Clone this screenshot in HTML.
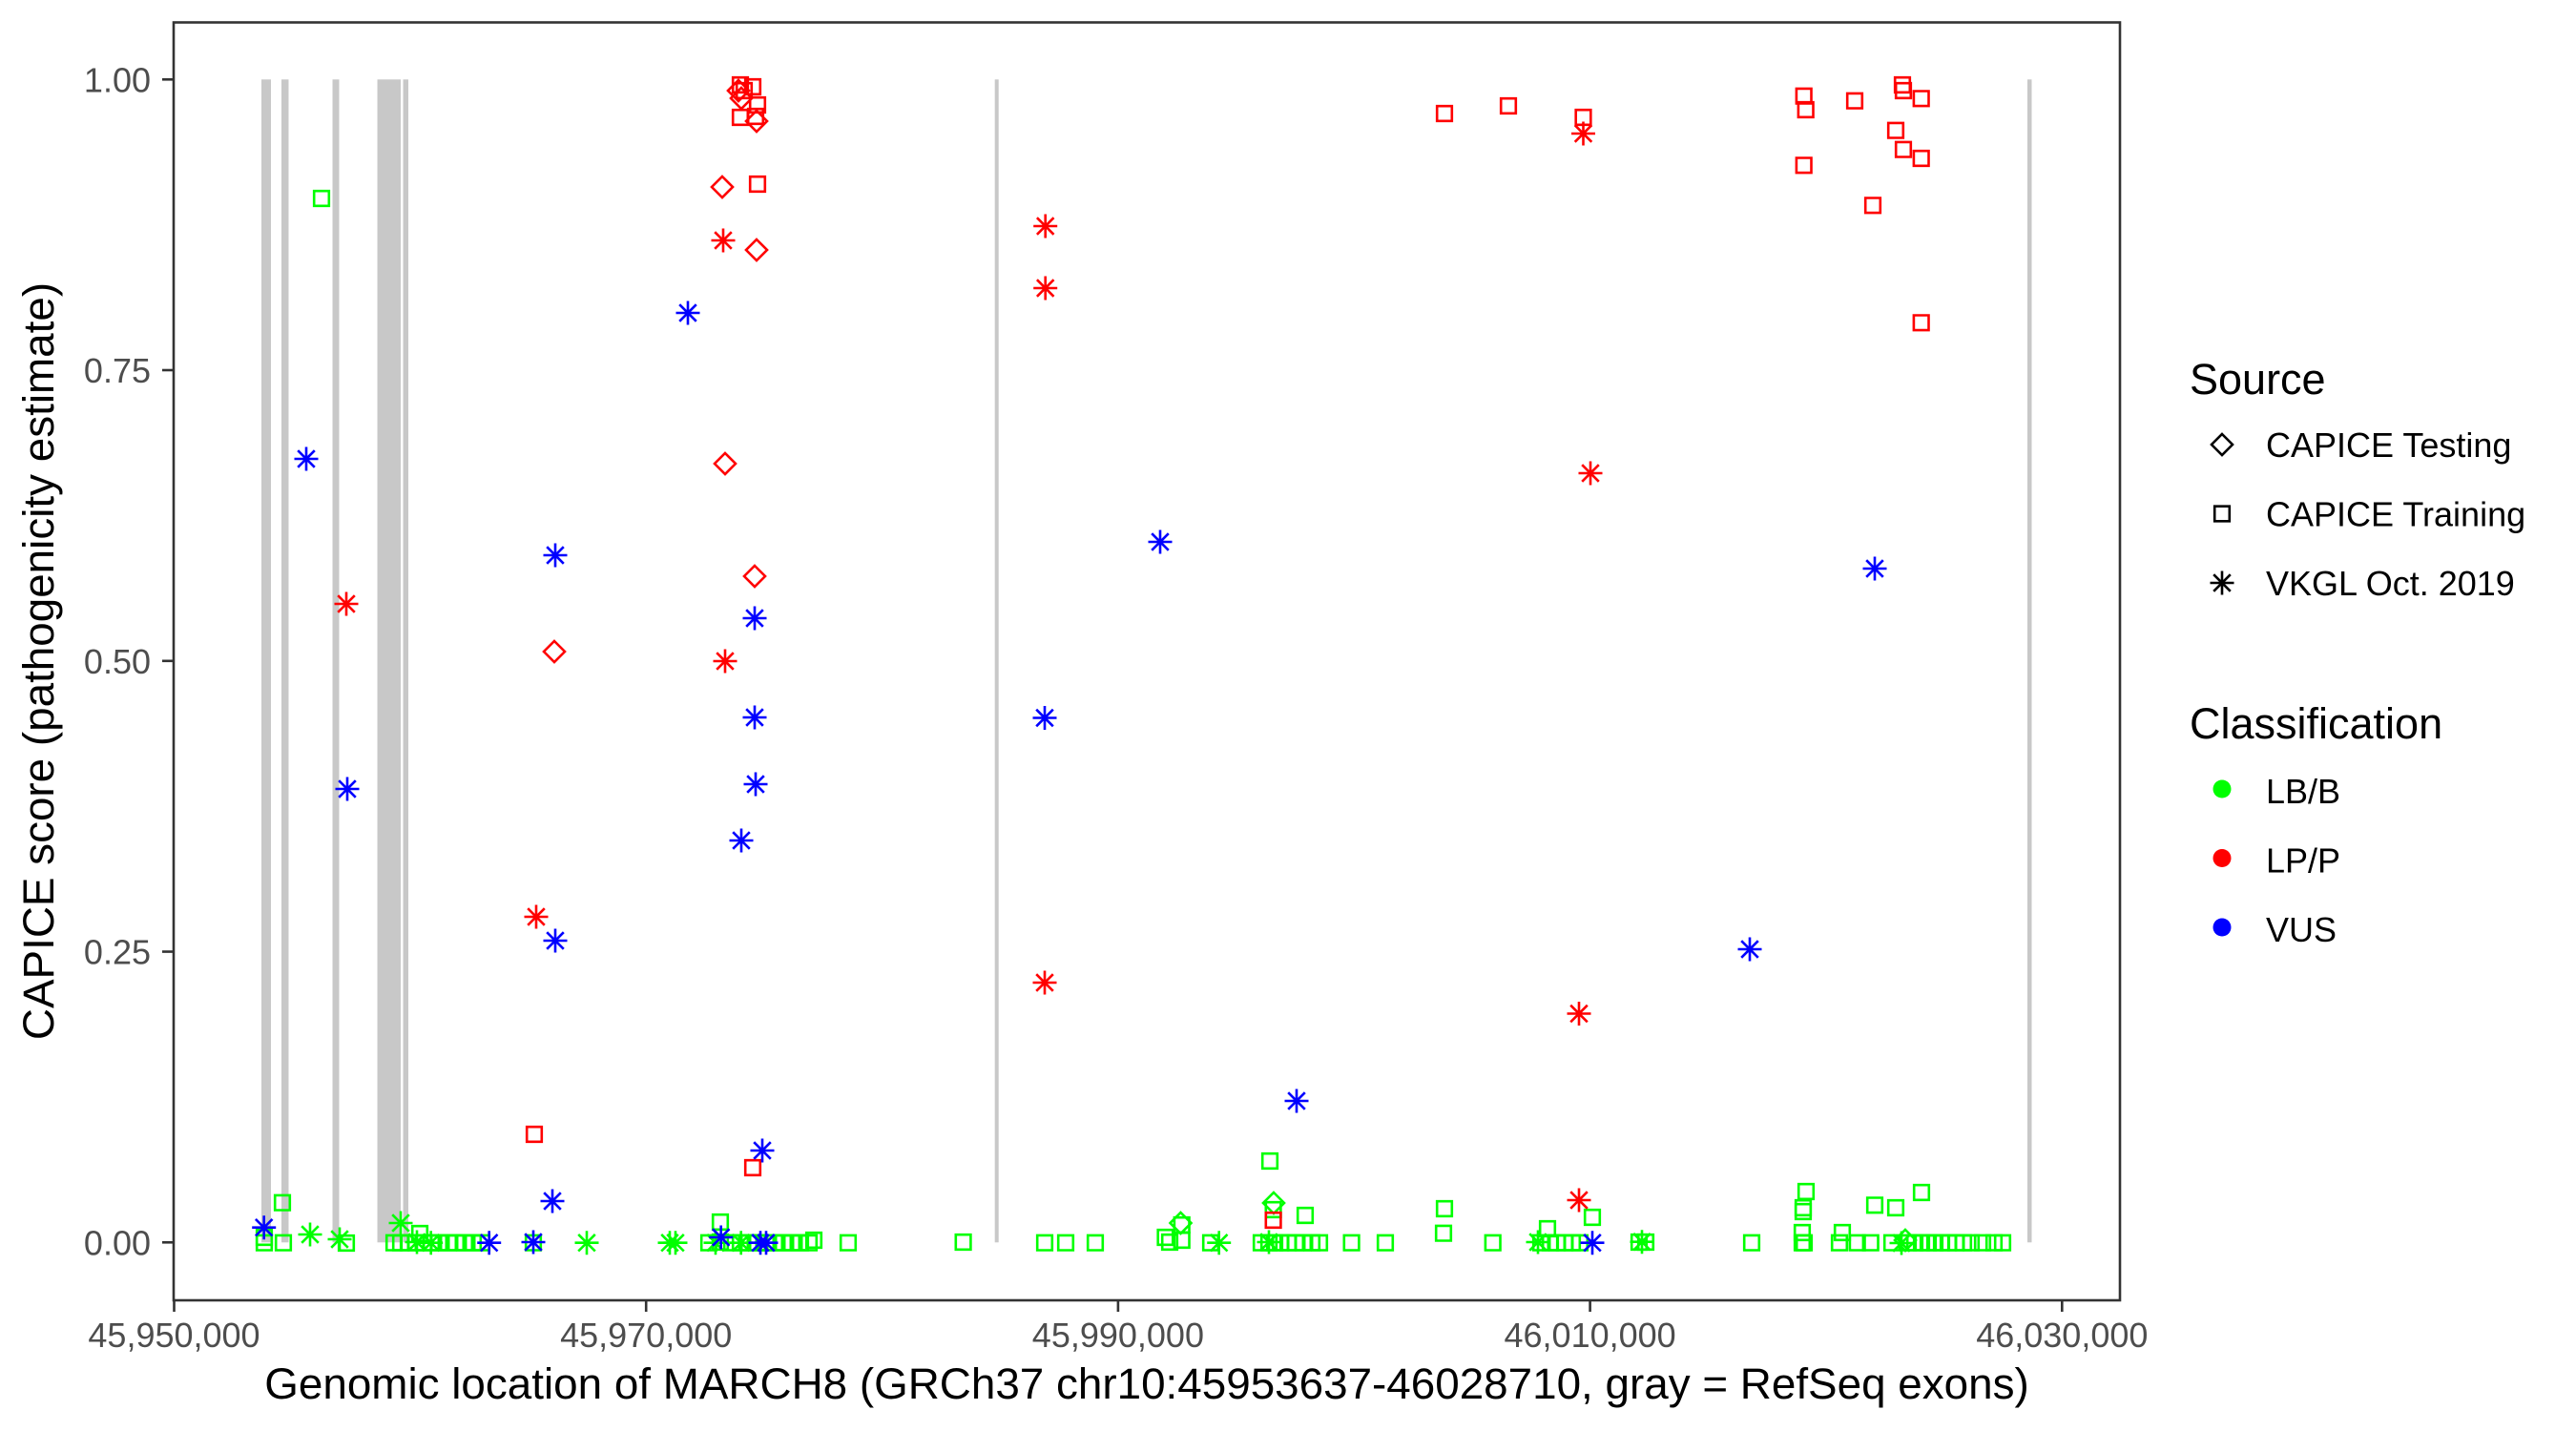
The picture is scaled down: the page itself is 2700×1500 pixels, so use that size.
<!DOCTYPE html>
<html><head><meta charset="utf-8"><style>
html,body{margin:0;padding:0;background:#fff;}
svg{display:block;font-family:"Liberation Sans",Arial,sans-serif;}
</style></head><body>
<svg width="2700" height="1500" viewBox="0 0 2700 1500" xmlns="http://www.w3.org/2000/svg">
<defs>
<path id="S" d="M-7.8,-7.8h15.6v15.6h-15.6z"/>
<path id="D" d="M0,-11L11,0L0,11L-11,0z"/>
<path id="A" d="M0,-12.5V12.5M-12.5,0H12.5M-8.8,-8.8L8.8,8.8M-8.8,8.8L8.8,-8.8"/>
</defs>
<rect width="2700" height="1500" fill="#fff"/>
<!-- exons -->
<g fill="#c8c8c8">
<rect x="274" y="83.3" width="10" height="1219"/>
<rect x="295" y="83.3" width="7.5" height="1219"/>
<rect x="348.5" y="83.3" width="7" height="1219"/>
<rect x="395.5" y="83.3" width="24.5" height="1219"/>
<rect x="422.5" y="83.3" width="5.5" height="1219"/>
<rect x="1042.7" y="83.3" width="4" height="1219"/>
<rect x="2125" y="83.3" width="4.5" height="1219"/>
</g>
<!-- green points -->
<g fill="none" stroke="#00ff00" stroke-width="2.6">
<use href="#S" x="277" y="1302.7"/><use href="#S" x="277" y="1297"/>
<use href="#S" x="296" y="1260.7"/><use href="#S" x="297" y="1302.7"/>
<use href="#A" x="325" y="1294"/>
<use href="#S" x="337" y="208"/>
<use href="#A" x="356" y="1299"/><use href="#S" x="363" y="1303"/>
<use href="#A" x="420" y="1282"/>
<use href="#S" x="413" y="1302.7"/><use href="#S" x="420" y="1302.7"/><use href="#S" x="428" y="1302.7"/><use href="#S" x="436" y="1302.7"/><use href="#S" x="444" y="1302.7"/><use href="#S" x="452" y="1302.7"/><use href="#S" x="460" y="1302.7"/><use href="#S" x="470" y="1302.7"/><use href="#S" x="478" y="1302.7"/><use href="#S" x="487" y="1302.7"/><use href="#S" x="496" y="1302.7"/><use href="#S" x="505" y="1302.7"/>
<use href="#S" x="440" y="1293"/>
<use href="#A" x="451.7" y="1302.7"/><use href="#A" x="437" y="1302"/>
<use href="#S" x="559" y="1302.7"/>
<use href="#A" x="615" y="1302.7"/>
<use href="#A" x="702" y="1302.7"/><use href="#A" x="708" y="1302.7"/>
<use href="#S" x="743" y="1302.7"/><use href="#S" x="755" y="1281"/><use href="#A" x="750" y="1302.7"/><use href="#A" x="776.7" y="1302.7"/><use href="#S" x="755" y="1302"/>
<use href="#S" x="767" y="1302.7"/><use href="#S" x="776" y="1302.7"/><use href="#S" x="785" y="1302.7"/><use href="#S" x="794" y="1302.7"/><use href="#S" x="803" y="1302.7"/><use href="#S" x="812" y="1302.7"/><use href="#S" x="821" y="1302.7"/><use href="#S" x="830" y="1302.7"/><use href="#S" x="839" y="1302.7"/><use href="#S" x="848" y="1302.7"/><use href="#S" x="853" y="1300"/>
<use href="#S" x="889" y="1302.7"/>
<use href="#S" x="1009.6" y="1302"/>
<use href="#S" x="1095" y="1302.7"/><use href="#S" x="1117" y="1302.7"/><use href="#S" x="1148" y="1302.7"/>
<use href="#S" x="1221.5" y="1297"/><use href="#S" x="1238.7" y="1300"/><use href="#S" x="1238.7" y="1284"/><use href="#D" x="1237.5" y="1282"/><use href="#S" x="1226" y="1302"/>
<use href="#S" x="1269" y="1302.7"/><use href="#A" x="1277.7" y="1302.7"/>
<use href="#S" x="1331" y="1217"/>
<use href="#D" x="1335" y="1261"/><use href="#S" x="1334.6" y="1268"/>
<use href="#S" x="1322" y="1302.7"/><use href="#S" x="1330" y="1302.7"/><use href="#S" x="1336" y="1302.7"/><use href="#S" x="1342" y="1302.7"/><use href="#S" x="1350" y="1302.7"/><use href="#S" x="1358" y="1302.7"/><use href="#S" x="1366" y="1302.7"/><use href="#S" x="1375" y="1302.7"/><use href="#S" x="1383" y="1302.7"/><use href="#A" x="1330" y="1302"/>
<use href="#S" x="1368" y="1274"/>
<use href="#S" x="1416.6" y="1302.7"/><use href="#S" x="1452" y="1302.7"/>
<use href="#S" x="1514" y="1267"/><use href="#S" x="1513" y="1292.7"/>
<use href="#S" x="1564.7" y="1302.7"/>
<use href="#A" x="1612" y="1302"/><use href="#S" x="1622" y="1288"/>
<use href="#S" x="1615" y="1302.7"/><use href="#S" x="1625" y="1302.7"/><use href="#S" x="1632" y="1302.7"/><use href="#S" x="1640" y="1302.7"/><use href="#S" x="1648" y="1302.7"/><use href="#S" x="1656" y="1302.7"/>
<use href="#S" x="1669" y="1276"/>
<use href="#A" x="1721" y="1301.7"/><use href="#S" x="1718" y="1302"/><use href="#S" x="1725" y="1302"/>
<use href="#S" x="1836" y="1302.7"/>
<use href="#S" x="1893" y="1249"/><use href="#S" x="1890" y="1266"/><use href="#S" x="1890" y="1270"/><use href="#S" x="1889" y="1292"/><use href="#S" x="1891" y="1302.7"/><use href="#S" x="1889" y="1302.7"/>
<use href="#S" x="1931" y="1292"/><use href="#S" x="1928" y="1302.7"/><use href="#S" x="1946.7" y="1302.7"/><use href="#S" x="1960.7" y="1302.7"/>
<use href="#S" x="1965" y="1263.3"/><use href="#S" x="1987" y="1266"/><use href="#S" x="2014" y="1250"/>
<use href="#S" x="1983" y="1302.7"/><use href="#D" x="1997" y="1300"/><use href="#A" x="1993" y="1303"/>
<use href="#S" x="2000" y="1302.7"/><use href="#S" x="2007" y="1302.7"/><use href="#S" x="2014" y="1302.7"/><use href="#S" x="2021" y="1302.7"/><use href="#S" x="2028" y="1302.7"/><use href="#S" x="2035" y="1302.7"/><use href="#S" x="2042" y="1302.7"/><use href="#S" x="2050" y="1302.7"/><use href="#S" x="2058" y="1302.7"/><use href="#S" x="2066" y="1302.7"/><use href="#S" x="2078" y="1302.7"/><use href="#S" x="2090" y="1302.7"/><use href="#S" x="2099" y="1302.7"/>
</g>
<!-- red points -->
<g fill="none" stroke="#ff0000" stroke-width="2.6">
<use href="#A" x="363" y="633"/>
<use href="#S" x="560" y="1189"/>
<use href="#A" x="562" y="961"/>
<use href="#D" x="581" y="683"/>
<use href="#D" x="760" y="486"/><use href="#A" x="760" y="693"/>
<use href="#D" x="791" y="604"/>
<use href="#D" x="757" y="196"/><use href="#S" x="794" y="193"/><use href="#A" x="758" y="252"/><use href="#D" x="793" y="262"/>
<use href="#S" x="776" y="89"/><use href="#S" x="789" y="91"/><use href="#S" x="794" y="110"/><use href="#S" x="776" y="123"/><use href="#S" x="792" y="122"/><use href="#S" x="780" y="95"/>
<use href="#D" x="774" y="95"/><use href="#D" x="793" y="127"/><use href="#D" x="777" y="103"/>
<use href="#S" x="789" y="1224"/>
<use href="#S" x="1334.6" y="1279"/>
<use href="#A" x="1655" y="1258"/>
<use href="#A" x="1095.7" y="237"/><use href="#A" x="1095.7" y="302"/><use href="#A" x="1095" y="1030"/>
<use href="#S" x="1514" y="119"/><use href="#S" x="1581" y="111"/><use href="#S" x="1659.5" y="123"/><use href="#A" x="1659.5" y="140"/>
<use href="#A" x="1667" y="496"/><use href="#A" x="1655" y="1062.5"/>
<use href="#S" x="1890.7" y="100.7"/><use href="#S" x="1892.7" y="115"/><use href="#S" x="1944" y="105.7"/><use href="#S" x="1994" y="89"/><use href="#S" x="1995" y="95"/><use href="#S" x="2013.7" y="103.3"/><use href="#S" x="1987" y="136.7"/><use href="#S" x="1995" y="156.7"/><use href="#S" x="2013.7" y="166"/><use href="#S" x="1890.7" y="173.3"/><use href="#S" x="1963" y="215.3"/><use href="#S" x="2013.7" y="338.3"/>
</g>
<!-- blue points -->
<g fill="none" stroke="#0000ff" stroke-width="2.6">
<use href="#A" x="276.7" y="1286.7"/>
<use href="#A" x="321" y="481"/>
<use href="#A" x="364" y="827"/>
<use href="#A" x="512.7" y="1302.7"/>
<use href="#A" x="559" y="1302"/>
<use href="#A" x="579" y="1259"/>
<use href="#A" x="582" y="986"/>
<use href="#A" x="582" y="582"/>
<use href="#A" x="721" y="328"/>
<use href="#A" x="791" y="648"/><use href="#A" x="791" y="752"/><use href="#A" x="792" y="822"/><use href="#A" x="777" y="881"/>
<use href="#A" x="799" y="1206"/>
<use href="#A" x="755.7" y="1297"/>
<use href="#A" x="797" y="1302.7"/><use href="#A" x="803" y="1302.7"/>
<use href="#A" x="1095" y="752.5"/>
<use href="#A" x="1216" y="568"/>
<use href="#A" x="1359" y="1154"/>
<use href="#A" x="1669" y="1302.7"/>
<use href="#A" x="1834" y="995"/>
<use href="#A" x="1965" y="596"/>
</g>
<!-- panel border -->
<rect x="182" y="23.5" width="2040" height="1339.5" fill="none" stroke="#333333" stroke-width="2.6"/>
<!-- ticks -->
<g stroke="#333333" stroke-width="2.6">
<line x1="170" y1="1302.3" x2="182" y2="1302.3"/>
<line x1="170" y1="997.55" x2="182" y2="997.55"/>
<line x1="170" y1="692.8" x2="182" y2="692.8"/>
<line x1="170" y1="388" x2="182" y2="388"/>
<line x1="170" y1="83.3" x2="182" y2="83.3"/>
<line x1="182.5" y1="1363" x2="182.5" y2="1375"/>
<line x1="677.2" y1="1363" x2="677.2" y2="1375"/>
<line x1="1171.9" y1="1363" x2="1171.9" y2="1375"/>
<line x1="1666.6" y1="1363" x2="1666.6" y2="1375"/>
<line x1="2161.3" y1="1363" x2="2161.3" y2="1375"/>
</g>
<g fill="#4d4d4d" font-size="36" text-anchor="end">
<text x="158" y="1315.3">0.00</text>
<text x="158" y="1010.5">0.25</text>
<text x="158" y="705.8">0.50</text>
<text x="158" y="401">0.75</text>
<text x="158" y="96.3">1.00</text>
</g>
<g fill="#4d4d4d" font-size="36" text-anchor="middle">
<text x="182.5" y="1412">45,950,000</text>
<text x="677.2" y="1412">45,970,000</text>
<text x="1171.9" y="1412">45,990,000</text>
<text x="1666.6" y="1412">46,010,000</text>
<text x="2161.3" y="1412">46,030,000</text>
</g>
<text x="1202" y="1466" font-size="45.8" text-anchor="middle" fill="#000">Genomic location of MARCH8 (GRCh37 chr10:45953637-46028710, gray = RefSeq exons)</text>
<text transform="translate(56,693) rotate(-90)" font-size="45.8" text-anchor="middle" fill="#000">CAPICE score (pathogenicity estimate)</text>
<!-- legend -->
<g fill="#000">
<text x="2295" y="413" font-size="45">Source</text>
<text x="2375" y="479" font-size="36">CAPICE Testing</text>
<text x="2375" y="551.5" font-size="36">CAPICE Training</text>
<text x="2375" y="624" font-size="36">VKGL Oct. 2019</text>
<text x="2295" y="774" font-size="45">Classification</text>
<text x="2375" y="842" font-size="36">LB/B</text>
<text x="2375" y="914.5" font-size="36">LP/P</text>
<text x="2375" y="987" font-size="36">VUS</text>
</g>
<g fill="none" stroke="#000" stroke-width="2.6">
<use href="#D" x="2329" y="466"/>
<use href="#S" x="2329" y="538.5"/>
<use href="#A" x="2329" y="611"/>
</g>
<circle cx="2329" cy="827" r="9.5" fill="#00ff00"/>
<circle cx="2329" cy="899.5" r="9.5" fill="#ff0000"/>
<circle cx="2329" cy="972" r="9.5" fill="#0000ff"/>
</svg>
</body></html>
